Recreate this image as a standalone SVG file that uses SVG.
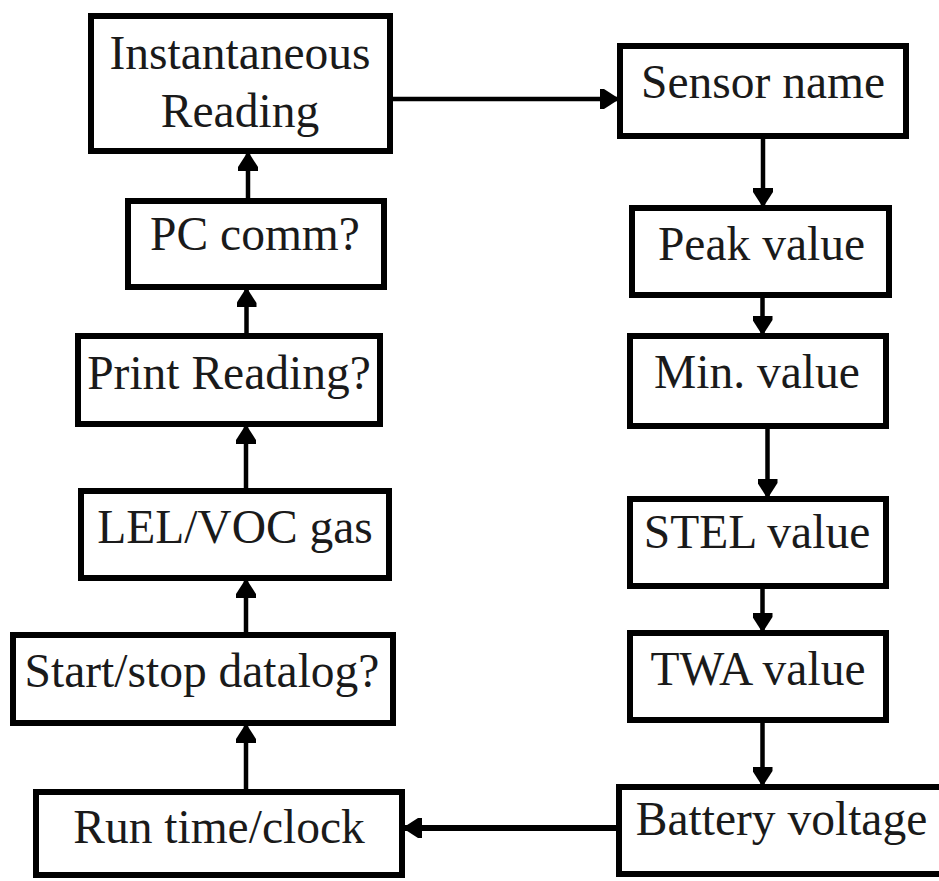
<svg xmlns="http://www.w3.org/2000/svg" width="939" height="881" viewBox="0 0 939 881">
<style>
.box{fill:#fff;stroke:#000;stroke-width:6}
.lbl{font-family:"Liberation Serif","Times New Roman",serif;font-size:47.5px;fill:#1a1a1a;text-anchor:middle}
.con{fill:none;stroke:#000;stroke-width:4.5;marker-end:url(#ah)}
</style>
<defs>
<marker id="ah" viewBox="0 0 18 20" refX="17" refY="10" markerWidth="18" markerHeight="20" markerUnits="userSpaceOnUse" orient="auto">
<path d="M0,0 L4,0 L18,9 L18,11 L4,20 L0,20 z" fill="#000"/>
</marker>
</defs>
<rect width="939" height="881" fill="#fff"/>
<g id="connectors">
<line class="con" x1="390" y1="99" x2="617" y2="99"/>
<line class="con" x1="763" y1="139" x2="763" y2="205"/>
<line class="con" x1="762.5" y1="298" x2="762.5" y2="333"/>
<line class="con" x1="767.5" y1="429" x2="767.5" y2="496"/>
<line class="con" x1="762.5" y1="589" x2="762.5" y2="630"/>
<line class="con" x1="762.5" y1="723" x2="762.5" y2="784"/>
<line class="con" style="stroke-width:6" x1="616" y1="828" x2="405" y2="828"/>
<line class="con" x1="246" y1="789" x2="246" y2="726"/>
<line class="con" x1="246" y1="632" x2="246" y2="581"/>
<line class="con" x1="246" y1="488" x2="246" y2="427"/>
<line class="con" x1="246.5" y1="333" x2="246.5" y2="290"/>
<line class="con" x1="248" y1="198" x2="248" y2="154"/>
</g>
<g id="n-instantaneous">
<rect class="box" x="91" y="16" width="299" height="135"/>
<text class="lbl" x="240" y="69">Instantaneous</text>
<text class="lbl" x="240" y="127">Reading</text>
</g>
<g id="n-sensor">
<rect class="box" x="620" y="46" width="286" height="90"/>
<text class="lbl" x="763" y="98">Sensor name</text>
</g>
<g id="n-pc">
<rect class="box" x="128" y="201" width="256" height="86"/>
<text class="lbl" x="255" y="250">PC comm?</text>
</g>
<g id="n-peak">
<rect class="box" x="632" y="208" width="257" height="87"/>
<text class="lbl" x="761.5" y="260">Peak value</text>
</g>
<g id="n-print">
<rect class="box" x="78" y="336" width="302" height="88"/>
<text class="lbl" x="229" y="389">Print Reading?</text>
</g>
<g id="n-min">
<rect class="box" x="630" y="336" width="256" height="90"/>
<text class="lbl" x="757" y="388">Min. value</text>
</g>
<g id="n-lel">
<rect class="box" x="81" y="491" width="308" height="87"/>
<text class="lbl" x="235" y="543">LEL/VOC gas</text>
</g>
<g id="n-stel">
<rect class="box" x="630" y="499" width="256" height="87"/>
<text class="lbl" x="757" y="548">STEL value</text>
</g>
<g id="n-start">
<rect class="box" x="13" y="635" width="380" height="88"/>
<text class="lbl" x="202" y="687">Start/stop datalog?</text>
</g>
<g id="n-twa">
<rect class="box" x="630" y="633" width="256" height="87"/>
<text class="lbl" x="758" y="685">TWA value</text>
</g>
<g id="n-run">
<rect class="box" x="36" y="792" width="366" height="83"/>
<text class="lbl" x="219" y="843">Run time/clock</text>
</g>
<g id="n-battery">
<rect class="box" x="619" y="787" width="330" height="87"/>
<text class="lbl" x="781.5" y="835">Battery voltage</text>
</g>
</svg>
